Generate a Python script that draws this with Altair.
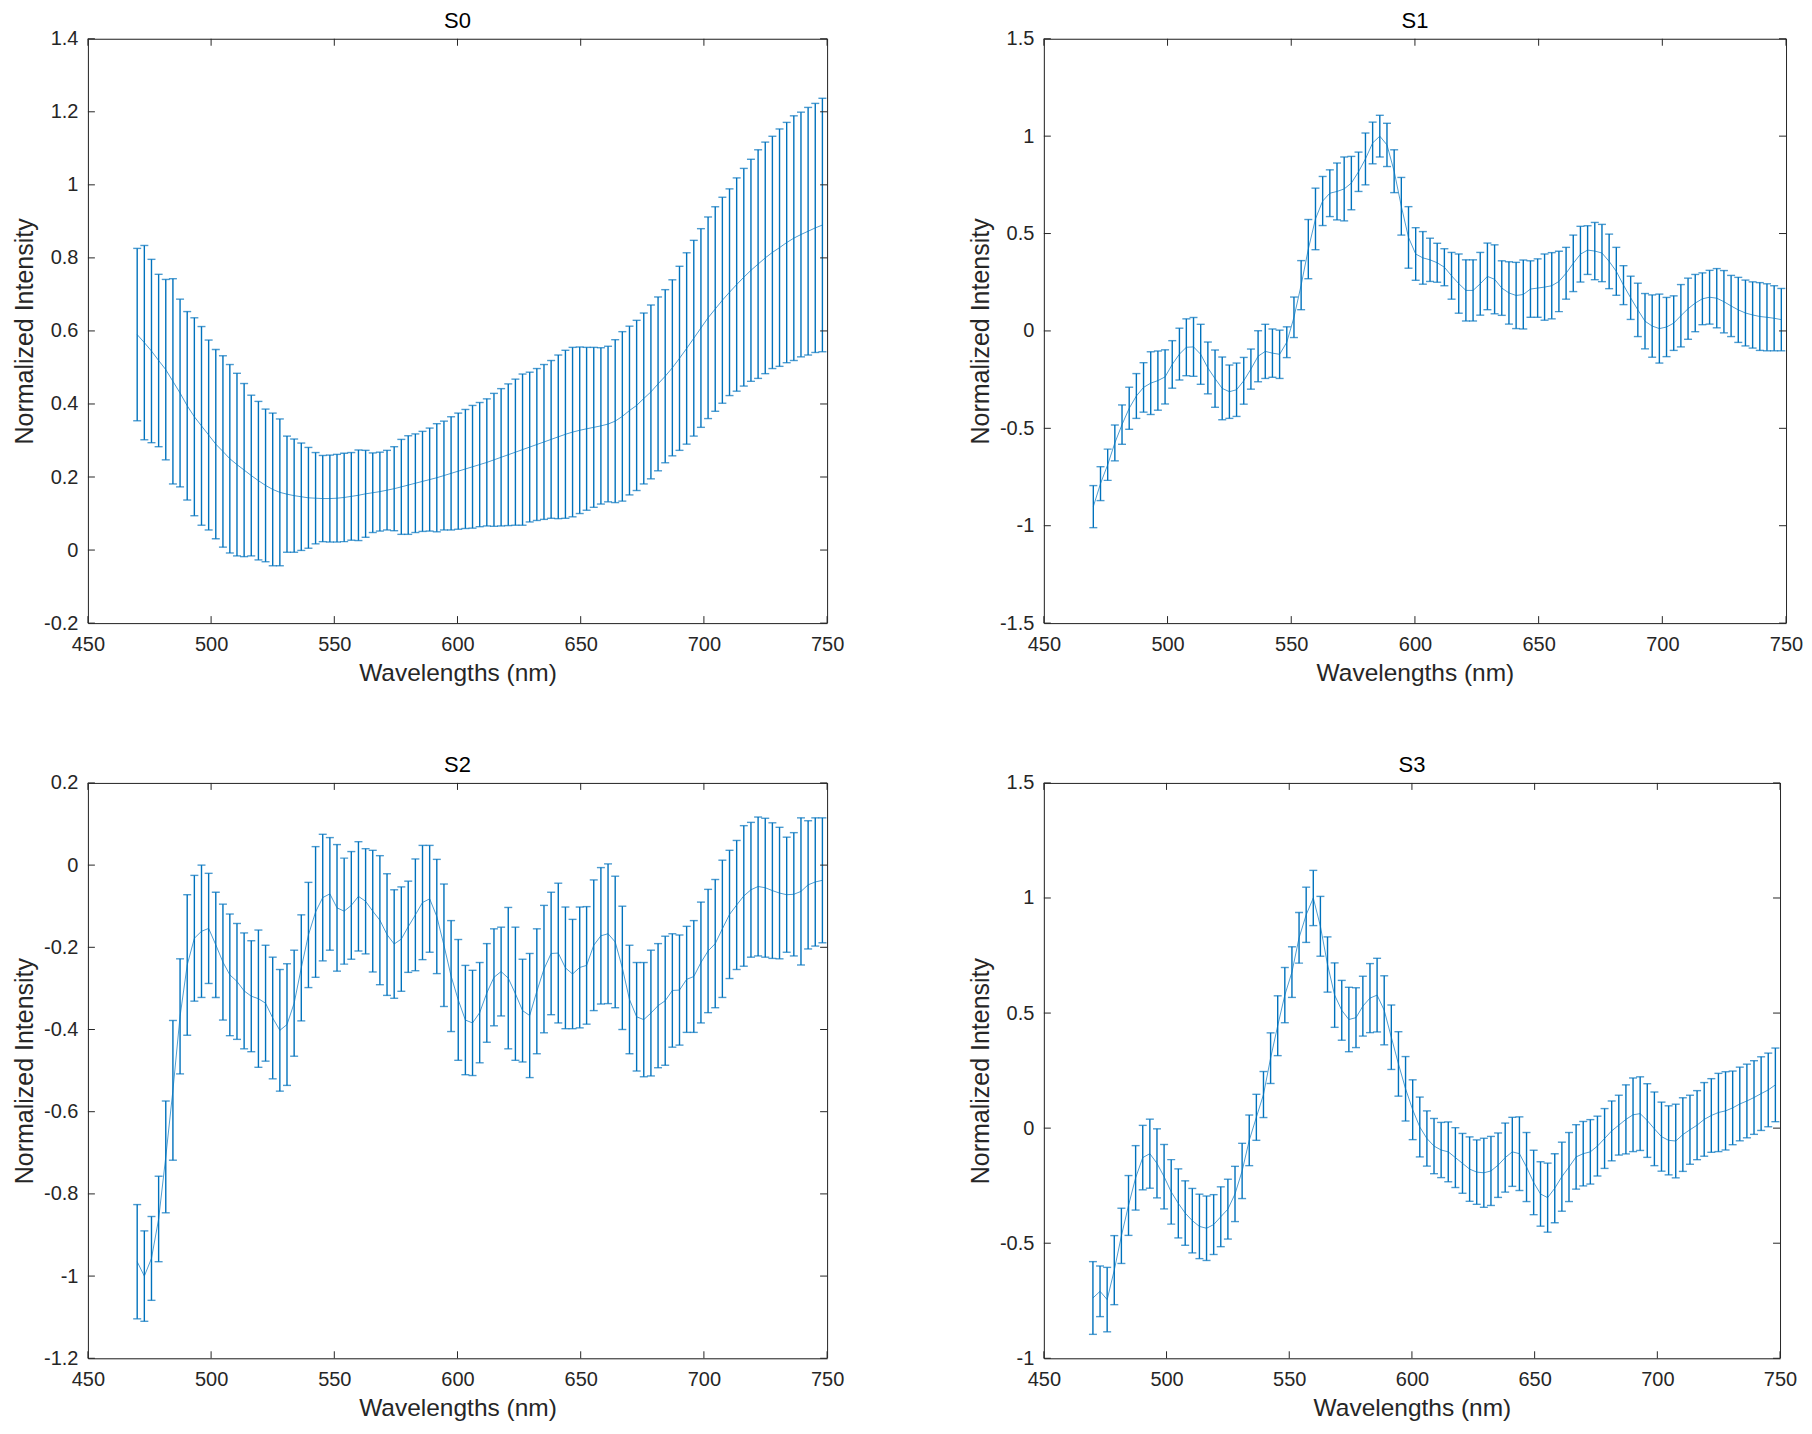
import altair as alt
import pandas as pd

# ---------------- data ----------------
WAVELENGTHS = [
    470.0, 472.9, 475.8, 478.7, 481.6, 484.5, 487.4, 490.3, 493.2, 496.1,
    499.0, 501.9, 504.8, 507.6, 510.5, 513.4, 516.3, 519.2, 522.1, 525.0,
    527.9, 530.8, 533.7, 536.6, 539.5, 542.4, 545.3, 548.2, 551.1, 554.0,
    556.9, 559.8, 562.7, 565.6, 568.5, 571.4, 574.3, 577.2, 580.0, 582.9,
    585.8, 588.7, 591.6, 594.5, 597.4, 600.3, 603.2, 606.1, 609.0, 611.9,
    614.8, 617.7, 620.6, 623.5, 626.4, 629.3, 632.2, 635.1, 638.0, 640.9,
    643.8, 646.7, 649.6, 652.4, 655.3, 658.2, 661.1, 664.0, 666.9, 669.8,
    672.7, 675.6, 678.5, 681.4, 684.3, 687.2, 690.1, 693.0, 695.9, 698.8,
    701.7, 704.6, 707.5, 710.4, 713.3, 716.2, 719.1, 722.0, 724.9, 727.8,
    730.7, 733.6, 736.5, 739.4, 742.3, 745.2, 748.1]

S0_MEAN = [
    0.590, 0.568, 0.545, 0.519, 0.494, 0.462, 0.430, 0.395, 0.365, 0.340,
    0.315, 0.290, 0.270, 0.250, 0.234, 0.219, 0.204, 0.190, 0.177, 0.166,
    0.158, 0.153, 0.149, 0.146, 0.143, 0.142, 0.141, 0.141, 0.142, 0.144,
    0.147, 0.150, 0.154, 0.157, 0.160, 0.164, 0.168, 0.173, 0.178, 0.183,
    0.188, 0.193, 0.198, 0.204, 0.210, 0.216, 0.222, 0.228, 0.234, 0.240,
    0.247, 0.254, 0.261, 0.268, 0.275, 0.282, 0.289, 0.296, 0.303, 0.310,
    0.317, 0.323, 0.328, 0.332, 0.336, 0.340, 0.345, 0.353, 0.366, 0.382,
    0.396, 0.415, 0.433, 0.455, 0.476, 0.499, 0.525, 0.552, 0.580, 0.608,
    0.636, 0.660, 0.684, 0.706, 0.727, 0.747, 0.766, 0.783, 0.800, 0.815,
    0.828, 0.842, 0.854, 0.864, 0.873, 0.882, 0.890]
S0_ERR = [
    0.236, 0.266, 0.251, 0.236, 0.247, 0.281, 0.257, 0.258, 0.271, 0.272,
    0.260, 0.259, 0.262, 0.258, 0.250, 0.237, 0.220, 0.217, 0.209, 0.209,
    0.201, 0.159, 0.155, 0.147, 0.138, 0.125, 0.118, 0.119, 0.120, 0.121,
    0.120, 0.124, 0.119, 0.109, 0.108, 0.109, 0.115, 0.130, 0.135, 0.135,
    0.137, 0.141, 0.148, 0.149, 0.155, 0.159, 0.163, 0.168, 0.170, 0.174,
    0.182, 0.188, 0.194, 0.200, 0.207, 0.205, 0.208, 0.212, 0.216, 0.224,
    0.230, 0.232, 0.228, 0.223, 0.219, 0.214, 0.213, 0.223, 0.232, 0.231,
    0.233, 0.234, 0.238, 0.238, 0.237, 0.241, 0.252, 0.262, 0.268, 0.272,
    0.276, 0.280, 0.282, 0.283, 0.292, 0.298, 0.304, 0.313, 0.317, 0.318,
    0.325, 0.329, 0.335, 0.335, 0.339, 0.341, 0.347]

S1_MEAN = [
    -0.902, -0.784, -0.687, -0.575, -0.481, -0.397, -0.334, -0.290, -0.268, -0.255,
    -0.236, -0.172, -0.119, -0.084, -0.082, -0.120, -0.190, -0.245, -0.295, -0.312,
    -0.302, -0.256, -0.196, -0.130, -0.105, -0.114, -0.120, -0.058, 0.070, 0.235,
    0.420, 0.575, 0.667, 0.707, 0.716, 0.729, 0.759, 0.817, 0.883, 0.965,
    1.000, 0.955, 0.820, 0.640, 0.480, 0.395, 0.375, 0.365, 0.350, 0.327,
    0.283, 0.243, 0.208, 0.208, 0.242, 0.280, 0.265, 0.220, 0.195, 0.182,
    0.187, 0.215, 0.220, 0.225, 0.232, 0.254, 0.296, 0.347, 0.394, 0.415,
    0.410, 0.400, 0.357, 0.306, 0.235, 0.170, 0.108, 0.050, 0.025, 0.012,
    0.020, 0.040, 0.078, 0.114, 0.143, 0.165, 0.173, 0.168, 0.150, 0.128,
    0.108, 0.092, 0.082, 0.074, 0.070, 0.065, 0.058]
S1_ERR = [
    0.108, 0.087, 0.080, 0.092, 0.101, 0.108, 0.115, 0.127, 0.161, 0.152,
    0.139, 0.122, 0.133, 0.146, 0.151, 0.154, 0.133, 0.147, 0.161, 0.137,
    0.137, 0.120, 0.103, 0.131, 0.139, 0.124, 0.124, 0.079, 0.104, 0.126,
    0.152, 0.158, 0.126, 0.120, 0.146, 0.164, 0.137, 0.101, 0.133, 0.107,
    0.107, 0.111, 0.110, 0.148, 0.158, 0.135, 0.135, 0.111, 0.100, 0.095,
    0.120, 0.152, 0.157, 0.157, 0.161, 0.171, 0.177, 0.140, 0.160, 0.170,
    0.177, 0.145, 0.150, 0.170, 0.170, 0.155, 0.133, 0.145, 0.143, 0.125,
    0.147, 0.147, 0.140, 0.123, 0.100, 0.111, 0.137, 0.142, 0.160, 0.177,
    0.152, 0.140, 0.160, 0.157, 0.147, 0.133, 0.138, 0.152, 0.160, 0.157,
    0.167, 0.169, 0.170, 0.174, 0.172, 0.167, 0.160]

S2_MEAN = [
    -0.965, -1.000, -0.957, -0.861, -0.710, -0.548, -0.368, -0.243, -0.178, -0.161,
    -0.154, -0.194, -0.236, -0.267, -0.283, -0.306, -0.319, -0.325, -0.336, -0.372,
    -0.402, -0.388, -0.336, -0.250, -0.170, -0.114, -0.079, -0.070, -0.104, -0.112,
    -0.098, -0.076, -0.088, -0.112, -0.134, -0.169, -0.192, -0.180, -0.150, -0.121,
    -0.091, -0.082, -0.125, -0.195, -0.270, -0.328, -0.377, -0.384, -0.359, -0.311,
    -0.273, -0.259, -0.275, -0.313, -0.354, -0.366, -0.307, -0.253, -0.215, -0.214,
    -0.250, -0.265, -0.249, -0.244, -0.195, -0.172, -0.167, -0.187, -0.250, -0.327,
    -0.369, -0.376, -0.360, -0.342, -0.330, -0.305, -0.304, -0.278, -0.271, -0.237,
    -0.209, -0.191, -0.155, -0.120, -0.097, -0.075, -0.060, -0.052, -0.055, -0.062,
    -0.068, -0.072, -0.071, -0.064, -0.048, -0.041, -0.037]
S2_ERR = [
    0.139, 0.110, 0.102, 0.104, 0.136, 0.170, 0.140, 0.171, 0.153, 0.161,
    0.134, 0.128, 0.141, 0.148, 0.141, 0.141, 0.135, 0.167, 0.141, 0.148,
    0.148, 0.148, 0.129, 0.129, 0.128, 0.159, 0.154, 0.137, 0.154, 0.129,
    0.131, 0.133, 0.128, 0.148, 0.157, 0.148, 0.132, 0.127, 0.111, 0.136,
    0.139, 0.130, 0.139, 0.149, 0.135, 0.147, 0.133, 0.128, 0.122, 0.120,
    0.118, 0.108, 0.172, 0.162, 0.125, 0.151, 0.152, 0.155, 0.149, 0.170,
    0.148, 0.133, 0.147, 0.143, 0.159, 0.166, 0.170, 0.160, 0.150, 0.132,
    0.132, 0.139, 0.153, 0.151, 0.157, 0.138, 0.134, 0.129, 0.136, 0.147,
    0.150, 0.156, 0.167, 0.156, 0.157, 0.171, 0.164, 0.169, 0.169, 0.165,
    0.160, 0.140, 0.150, 0.179, 0.156, 0.156, 0.152]

S3_MEAN = [
    -0.738, -0.709, -0.745, -0.617, -0.468, -0.336, -0.216, -0.128, -0.111, -0.153,
    -0.211, -0.277, -0.327, -0.369, -0.402, -0.427, -0.435, -0.419, -0.385, -0.352,
    -0.286, -0.186, -0.053, 0.047, 0.146, 0.304, 0.445, 0.578, 0.678, 0.827,
    0.927, 1.000, 0.877, 0.711, 0.578, 0.512, 0.472, 0.480, 0.530, 0.565,
    0.578, 0.512, 0.395, 0.279, 0.171, 0.080, 0.005, -0.045, -0.078, -0.095,
    -0.103, -0.128, -0.153, -0.178, -0.191, -0.194, -0.186, -0.161, -0.128, -0.103,
    -0.111, -0.169, -0.236, -0.286, -0.302, -0.261, -0.211, -0.169, -0.125, -0.111,
    -0.103, -0.078, -0.045, -0.012, 0.013, 0.038, 0.058, 0.063, 0.033, -0.003,
    -0.037, -0.053, -0.056, -0.028, -0.007, 0.013, 0.038, 0.055, 0.068, 0.075,
    0.088, 0.105, 0.118, 0.133, 0.150, 0.166, 0.188]
S3_ERR = [
    0.158, 0.110, 0.140, 0.150, 0.120, 0.130, 0.140, 0.140, 0.150, 0.150,
    0.140, 0.140, 0.150, 0.140, 0.140, 0.140, 0.140, 0.130, 0.130, 0.130,
    0.120, 0.120, 0.110, 0.100, 0.100, 0.110, 0.130, 0.120, 0.110, 0.110,
    0.120, 0.120, 0.130, 0.120, 0.140, 0.130, 0.140, 0.130, 0.130, 0.150,
    0.160, 0.150, 0.140, 0.140, 0.140, 0.130, 0.130, 0.120, 0.120, 0.120,
    0.130, 0.130, 0.130, 0.140, 0.140, 0.150, 0.150, 0.140, 0.150, 0.150,
    0.160, 0.150, 0.140, 0.140, 0.150, 0.150, 0.150, 0.150, 0.140, 0.140,
    0.140, 0.130, 0.130, 0.130, 0.130, 0.150, 0.160, 0.160, 0.160, 0.160,
    0.150, 0.150, 0.160, 0.160, 0.150, 0.150, 0.160, 0.160, 0.170, 0.170,
    0.160, 0.160, 0.160, 0.160, 0.160, 0.160, 0.160]

X_TICKS = [450, 500, 550, 600, 650, 700, 750]
S0_YTICKS = [-0.2, 0, 0.2, 0.4, 0.6, 0.8, 1.0, 1.2, 1.4]
S1_YTICKS = [-1.5, -1, -0.5, 0, 0.5, 1, 1.5]
S2_YTICKS = [-1.2, -1.0, -0.8, -0.6, -0.4, -0.2, 0, 0.2]
S3_YTICKS = [-1, -0.5, 0, 0.5, 1, 1.5]

# ---------------- style ----------------
BLUE = "#0072BD"
AX = "#262626"
FONT = "Liberation Sans"
TICK_LEN = 7


def panel(title, mean, err, yticks, width, height):
    df = pd.DataFrame({"wl": WAVELENGTHS, "mean": mean, "err": err})
    df["lo"] = df["mean"] - df["err"]
    df["hi"] = df["mean"] + df["err"]
    xs = alt.Scale(domain=[X_TICKS[0], X_TICKS[-1]], nice=False, zero=False)
    ys = alt.Scale(domain=[yticks[0], yticks[-1]], nice=False, zero=False)
    xaxis = alt.Axis(values=X_TICKS, title="Wavelengths (nm)", ticks=False, domain=True,
                     domainColor=AX, domainWidth=1, labelFlush=False,
                     grid=False, labelFontSize=20, titleFontSize=24.5, labelPadding=11,
                     titlePadding=7, labelColor=AX, titleColor=AX, titleFontWeight="normal",
                     labelFont=FONT, titleFont=FONT)
    yaxis = alt.Axis(values=yticks, title="Normalized Intensity", ticks=False, domain=True,
                     domainColor=AX, domainWidth=1, labelFlush=False,
                     grid=False, labelFontSize=20, titleFontSize=25, labelPadding=10,
                     titlePadding=6, labelColor=AX, titleColor=AX, titleFontWeight="normal",
                     labelFont=FONT, titleFont=FONT,
                     labelExpr="toString(round(datum.value*10)/10)")
    base = alt.Chart(df)
    bars = base.mark_rule(color=BLUE, strokeWidth=1.4).encode(
        x=alt.X("wl:Q", scale=xs, axis=xaxis),
        y=alt.Y("lo:Q", scale=ys, axis=yaxis),
        y2="hi:Q")
    cap_hi = base.mark_tick(orient="horizontal", size=8, thickness=1.4, color=BLUE).encode(
        x="wl:Q", y="hi:Q")
    cap_lo = base.mark_tick(orient="horizontal", size=8, thickness=1.4, color=BLUE).encode(
        x="wl:Q", y="lo:Q")
    line = base.mark_line(color=BLUE, strokeWidth=1, opacity=0.7).encode(
        x="wl:Q", y="mean:Q")

    xt = alt.Chart(pd.DataFrame({"wl": X_TICKS}))
    yt = alt.Chart(pd.DataFrame({"lo": yticks}))
    xt_bottom = xt.mark_rule(color=AX, strokeWidth=1).encode(
        x="wl:Q", y=alt.value(height), y2=alt.value(height - TICK_LEN))
    xt_top = xt.mark_rule(color=AX, strokeWidth=1).encode(
        x="wl:Q", y=alt.value(0), y2=alt.value(TICK_LEN))
    yt_left = yt.mark_rule(color=AX, strokeWidth=1).encode(
        y="lo:Q", x=alt.value(0), x2=alt.value(TICK_LEN))
    yt_right = yt.mark_rule(color=AX, strokeWidth=1).encode(
        y="lo:Q", x=alt.value(width - TICK_LEN), x2=alt.value(width))

    edge = alt.Chart(pd.DataFrame({"edge": ["frame"]}))
    top_edge = edge.mark_rule(color=AX, strokeWidth=1).encode(
        x=alt.value(0), x2=alt.value(width), y=alt.value(0.5))
    right_edge = edge.mark_rule(color=AX, strokeWidth=1).encode(
        x=alt.value(width + 0.5), y=alt.value(0), y2=alt.value(height))

    return alt.layer(bars, cap_hi, cap_lo, line, xt_bottom, xt_top, yt_left, yt_right,
                     top_edge, right_edge).properties(
        width=width, height=height,
        title=alt.TitleParams(title, fontSize=22, fontWeight="normal", color="#000000",
                              font=FONT, offset=-4))


p0 = panel("S0", S0_MEAN, S0_ERR, S0_YTICKS, 740, 585)
p1 = panel("S1", S1_MEAN, S1_ERR, S1_YTICKS, 743, 585)
p2 = panel("S2", S2_MEAN, S2_ERR, S2_YTICKS, 740, 576)
p3 = panel("S3", S3_MEAN, S3_ERR, S3_YTICKS, 737, 576)

chart = alt.vconcat(
    alt.hconcat(p0, p1, spacing=123),
    alt.hconcat(p2, p3, spacing=123),
    spacing=68,
).properties(
    padding={"left": 4, "top": 0, "right": 0, "bottom": 0}
).configure_view(stroke=None).configure(font=FONT)

chart.save("out.html", embed_options={"renderer": "svg", "actions": False})
